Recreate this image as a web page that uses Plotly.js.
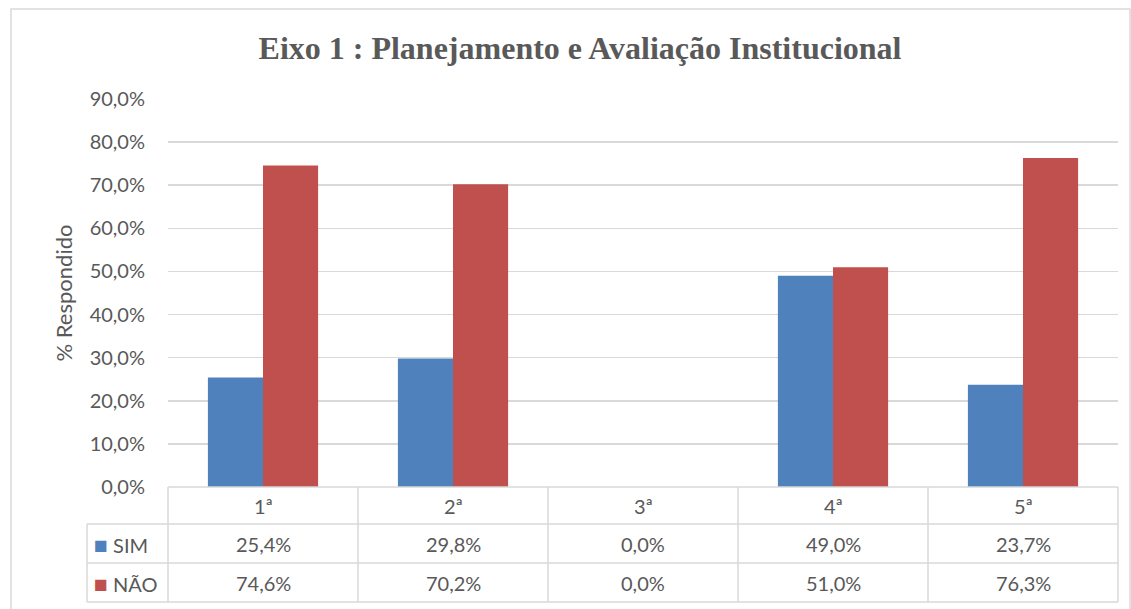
<!DOCTYPE html>
<html>
<head>
<meta charset="utf-8">
<script src="https://cdn.plot.ly/plotly-3.0.1.min.js"></script>
<style>
  body { margin: 0; background: #fff; }
  #grafico { width: 1131px; height: 609px; }
</style>
</head>
<body>
<div id="grafico"></div>
<script>
// dados do gráfico
const series = ['1ª', '2ª', '3ª', '4ª', '5ª'];
const sim = [0.254, 0.298, 0.0, 0.490, 0.237];
const nao = [0.746, 0.702, 0.0, 0.510, 0.763];
const nomes = ['SIM', 'NÃO'];
const cores = ['#4F81BD', '#C0504D'];

const cinza = '#595959';
const linha = '#D9D9D9';
const fonte = 'Lato, "Open Sans", sans-serif';

// área do gráfico em pixels
const W = 1131, H = 609;
const L = 168, R = 1118, T = 99, B = 487;
const px = X => (X - L) / (R - L);
const py = Y => (B - Y) / (B - T);

// linhas da tabela (pixels)
const linhasY = [B, 524, 563, 602];
const legX = 87;

function fmt(v) {
    return (v * 100).toFixed(1).replace('.', ',') + '%';
}

const traces = [sim, nao].map((vals, i) => ({
    x: series,
    y: vals,
    type: 'bar',
    name: nomes[i],
    marker: { color: cores[i] },
    hoverinfo: 'skip'
}));

const shapes = [];
const annotations = [];

// moldura externa
shapes.push({
    type: 'rect', xref: 'paper', yref: 'paper',
    x0: px(11), x1: px(1130), y0: py(9), y1: py(620),
    line: { color: linha, width: 1.5 }, fillcolor: 'rgba(0,0,0,0)', layer: 'below'
});

// horizontais da tabela
linhasY.forEach((Y, k) => {
    shapes.push({
        type: 'line', xref: 'paper', yref: 'paper',
        x0: k === 0 ? 0 : px(legX), x1: 1, y0: py(Y), y1: py(Y),
        line: { color: linha, width: 1.5 }
    });
});
// verticais: legenda e bordas das categorias
shapes.push({
    type: 'line', xref: 'paper', yref: 'paper',
    x0: px(legX), x1: px(legX), y0: py(linhasY[1]), y1: py(linhasY[3]),
    line: { color: linha, width: 1.5 }
});
for (let i = 0; i <= series.length; i++) {
    const xp = i / series.length;
    shapes.push({
        type: 'line', xref: 'paper', yref: 'paper',
        x0: xp, x1: xp, y0: py(B), y1: py(linhasY[3]),
        line: { color: linha, width: 1.5 }
    });
}

// textos da tabela
const meio = (a, b) => py((a + b) / 2);
const fTab = { family: fonte, size: 20, color: cinza };
series.forEach((c, i) => {
    annotations.push({
        x: c, xref: 'x', y: meio(linhasY[0], linhasY[1]), yref: 'paper', yanchor: 'middle',
        text: c, showarrow: false, font: fTab
    });
    [sim, nao].forEach((vals, r) => {
        annotations.push({
            x: c, xref: 'x', y: meio(linhasY[r + 1], linhasY[r + 2]), yref: 'paper', yanchor: 'middle',
            text: fmt(vals[i]), showarrow: false, font: fTab
        });
    });
});
nomes.forEach((n, r) => {
    annotations.push({
        x: px(92), xref: 'paper', xanchor: 'left',
        y: meio(linhasY[r + 1], linhasY[r + 2]), yref: 'paper', yanchor: 'middle',
        text: `<span style="color:${cores[r]};font-size:23px">■</span> ${n}`,
        showarrow: false, font: fTab
    });
});

const layout = {
    width: W, height: H,
    margin: { l: L, r: W - R, t: T, b: H - B, autoexpand: false },
    paper_bgcolor: '#fff',
    plot_bgcolor: '#fff',
    separators: ',.',
    showlegend: false,
    barmode: 'group',
    bargap: 0.42,
    bargroupgap: 0,
    title: {
        text: '<b>Eixo 1 : Planejamento e Avaliação Institucional</b>',
        font: { family: '"Liberation Serif", "Times New Roman", serif', size: 32, color: cinza },
        x: 580 / W, xanchor: 'center', xref: 'container',
        y: 1 - 48 / H, yanchor: 'middle', yref: 'container'
    },
    xaxis: {
        type: 'category',
        range: [-0.5, series.length - 0.5],
        showticklabels: false,
        showgrid: false,
        zeroline: false,
        showline: false,
        fixedrange: true
    },
    yaxis: {
        range: [0, 0.9],
        dtick: 0.1,
        tickformat: '.1%',
        showgrid: true,
        gridcolor: linha,
        gridwidth: 1.5,
        zeroline: false,
        showline: false,
        ticks: '',
        ticklabelstandoff: 22,
        tickfont: { family: fonte, size: 20, color: cinza },
        title: {
            text: '% Respondido',
            font: { family: fonte, size: 22, color: cinza },
            standoff: 10
        },
        automargin: false,
        fixedrange: true
    },
    shapes: shapes,
    annotations: annotations
};

Plotly.newPlot('grafico', traces, layout, { displayModeBar: false, staticPlot: true });
</script>
</body>
</html>
